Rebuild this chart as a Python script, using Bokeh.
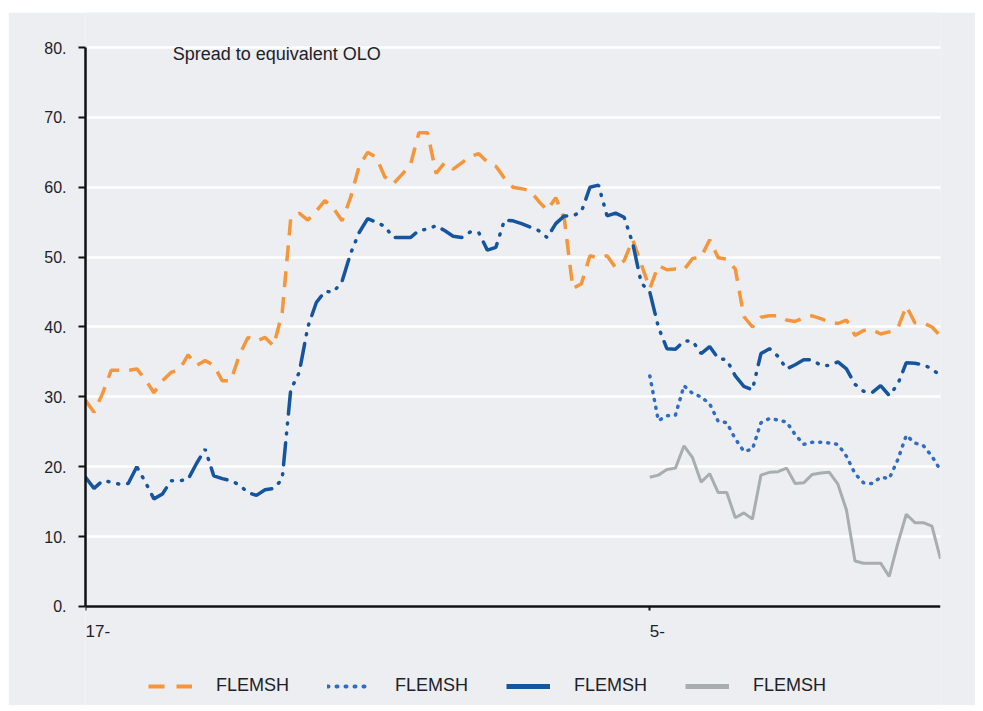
from bokeh.plotting import figure
from bokeh.models import (Legend, LegendItem, Label, FixedTicker, Range1d,
                          LinearAxis, Spacer)
from bokeh.layouts import column, row
from bokeh.embed import file_html
from bokeh.resources import INLINE

# ---- data ---------------------------------------------------------------
weeks = list(range(101))
short_start = 66
short_weeks = weeks[short_start:]

flemsh_orange = [
    29.5, 27.8, 30.5, 33.8, 33.8, 33.8, 34.0, 32.5, 30.6, 32.3,
    33.5, 33.9, 36.0, 34.5, 35.2, 34.5, 32.3, 32.3, 36.0, 38.5,
    38.0, 38.5, 37.3, 42.0, 55.5, 56.3, 55.3, 56.6, 58.1, 57.0,
    55.2, 58.5, 63.0, 65.0, 64.3, 61.5, 60.5, 61.8, 63.2, 67.8,
    67.8, 62.0, 63.5, 62.6, 63.5, 64.4, 64.8, 63.6, 63.0, 61.3,
    60.0, 59.8, 59.5, 58.0, 56.7, 58.5, 55.5, 45.5, 46.2, 50.2,
    49.9, 50.2, 48.5, 49.5, 52.5, 49.0, 45.5, 48.8, 48.2, 48.3,
    48.2, 49.8, 50.0, 52.5, 49.9, 49.7, 48.3, 41.5, 40.0, 41.4,
    41.6, 41.6, 41.0, 40.8, 41.3, 41.6, 41.2, 40.7, 40.5, 41.0,
    38.8, 39.5, 39.6, 39.0, 39.3, 39.8, 43.0, 40.6, 40.6, 40.0,
    38.7,
]

flemsh_navy = [
    18.5, 16.9, 18.0, 17.8, 17.5, 17.6, 20.0, 17.8, 15.4, 16.1,
    18.0, 18.0, 18.2, 20.5, 22.5, 18.7, 18.3, 18.0, 17.4, 16.3,
    15.9, 16.7, 16.9, 18.2, 31.0, 33.5, 40.0, 43.5, 45.1, 45.0,
    46.5, 50.5, 53.5, 55.5, 55.0, 54.4, 52.8, 52.8, 52.8, 53.8,
    54.0, 54.5, 53.8, 53.0, 52.8, 53.6, 53.5, 51.0, 51.4, 55.3,
    55.2, 54.8, 54.3, 53.8, 52.8, 54.8, 55.9, 55.9, 56.5, 60.0,
    60.3, 55.9, 56.3, 55.7, 52.0, 46.3, 45.0, 40.0, 36.9, 36.8,
    38.0, 38.0, 36.2, 37.2, 35.5, 35.3, 33.0, 31.5, 31.0, 36.2,
    36.9, 35.8, 34.0, 34.6, 35.3, 35.3, 34.5, 34.5, 35.0, 34.0,
    31.8, 30.8, 30.6, 31.6, 30.2, 31.8, 34.9, 34.8, 34.6, 34.0,
    33.0,
]

flemsh_dotted = [
    33.0, 26.6, 27.3, 27.4, 31.6, 30.5, 30.0, 29.0, 26.5, 26.3,
    24.0, 22.2, 22.5, 26.3, 26.9, 26.7, 26.4, 24.6, 23.2, 23.5,
    23.5, 23.4, 23.2, 21.5, 19.0, 17.7, 17.6, 18.5, 18.3, 21.0,
    24.5, 23.4, 23.0, 21.5, 19.5,
]

flemsh_grey = [
    18.5, 18.8, 19.6, 19.8, 23.0, 21.3, 17.8, 19.0, 16.3, 16.3,
    12.7, 13.4, 12.5, 18.8, 19.2, 19.3, 19.8, 17.6, 17.7, 18.9,
    19.1, 19.2, 17.5, 13.8, 6.5, 6.2, 6.2, 6.2, 4.3, 9.0,
    13.2, 12.0, 12.0, 11.5, 6.8,
]

series_names = ["FLEMSH", "FLEMSH", "FLEMSH", "FLEMSH"]
x_tick_pos = [0, 66]
x_tick_labels = ["17-", "5-"]
y_tick_pos = [0, 10, 20, 30, 40, 50, 60, 70, 80]
y_tick_labels = ["0.", "10.", "20.", "30.", "40.", "50.", "60.", "70.", "80."]
chart_title = "Spread to equivalent OLO"

# ---- styles -------------------------------------------------------------
BG = "#eceef2"
ORANGE = "#f5963a"
NAVY = "#15559f"
LBLUE = "#2f6cc2"
GREY = "#a7adb1"
TEXT = "#1c2228"
FONT = "Liberation Sans"

p = figure(frame_width=855, frame_height=693, output_backend="svg",
           toolbar_location=None, x_axis_location=None,
           x_range=Range1d(0, 100), y_range=Range1d(-14.17, 85.01),
           min_border_left=77, min_border_right=35, min_border_top=0,
           min_border_bottom=0)
p.background_fill_color = BG
p.border_fill_color = BG
p.outline_line_color = None

# grid
p.xgrid.grid_line_color = None
p.ygrid.ticker = FixedTicker(ticks=y_tick_pos)
p.ygrid.grid_line_color = "white"
p.ygrid.grid_line_width = 2.5

# axes
xaxis = LinearAxis(fixed_location=0, ticker=FixedTicker(ticks=x_tick_pos),
                   major_label_overrides=dict(zip(x_tick_pos, x_tick_labels)))
p.add_layout(xaxis, "below")
p.yaxis.ticker = FixedTicker(ticks=y_tick_pos)
p.yaxis.major_label_overrides = dict(zip(y_tick_pos, y_tick_labels))
p.yaxis.bounds = (0, 80)
for ax in (xaxis, p.yaxis[0]):
    ax.axis_line_color = "#111111"
    ax.axis_line_width = 2.5
    ax.major_tick_line_color = "#111111"
    ax.major_tick_line_width = 2
    ax.minor_tick_line_color = None
    ax.major_tick_in = 0
    ax.major_label_text_font = FONT
    ax.major_label_text_color = TEXT
p.yaxis.major_label_text_font_size = "16px"
p.yaxis.major_tick_out = 7
p.yaxis.major_label_standoff = 12
xaxis.major_label_text_font_size = "17px"
xaxis.major_label_orientation = -0.0001   # left-aligned labels at the ticks
xaxis.major_tick_out = 4
xaxis.major_label_standoff = 21

# lines
p.line(weeks, flemsh_orange, line_color=ORANGE, line_width=3.5, line_dash="16 10")
p.line(short_weeks, flemsh_dotted, line_color=LBLUE, line_width=3.5,
       line_dash="1 7", line_cap="round")
p.line(weeks, flemsh_navy, line_color=NAVY, line_width=3.5,
       line_dash="22 9 1 9 1 9", line_cap="round")
p.line(short_weeks, flemsh_grey, line_color=GREY, line_width=3)

# legend proxies (hidden copies of the series, styled as in the key)
r1 = p.line(weeks, flemsh_orange, line_color=ORANGE, line_width=4,
            line_dash="16 12", visible=False)
r2 = p.line(short_weeks, flemsh_dotted, line_color=LBLUE, line_width=4,
            line_dash="1 8", line_cap="round", visible=False)
r3 = p.line(weeks, flemsh_navy, line_color=NAVY, line_width=5, visible=False)
r4 = p.line(short_weeks, flemsh_grey, line_color=GREY, line_width=5, visible=False)
legend = Legend(items=[LegendItem(label=n, renderers=[r]) for n, r in
                       zip(series_names, [r1, r2, r3, r4])],
                orientation="horizontal", location=(63, 9),
                background_fill_alpha=0, border_line_color=None,
                glyph_width=44, glyph_height=20, label_standoff=24, spacing=38,
                padding=5, margin=0, click_policy="none",
                label_text_font=FONT, label_text_font_size="18px",
                label_text_color=TEXT)
p.add_layout(legend, "center")

p.add_layout(Label(x=10.2, y=79.14, text=chart_title, text_font=FONT,
                   text_font_size="18px", text_color=TEXT,
                   text_baseline="middle"))

page = column(Spacer(height=12), row(Spacer(width=8), p))
open("out.html", "w").write(file_html(page, INLINE))
